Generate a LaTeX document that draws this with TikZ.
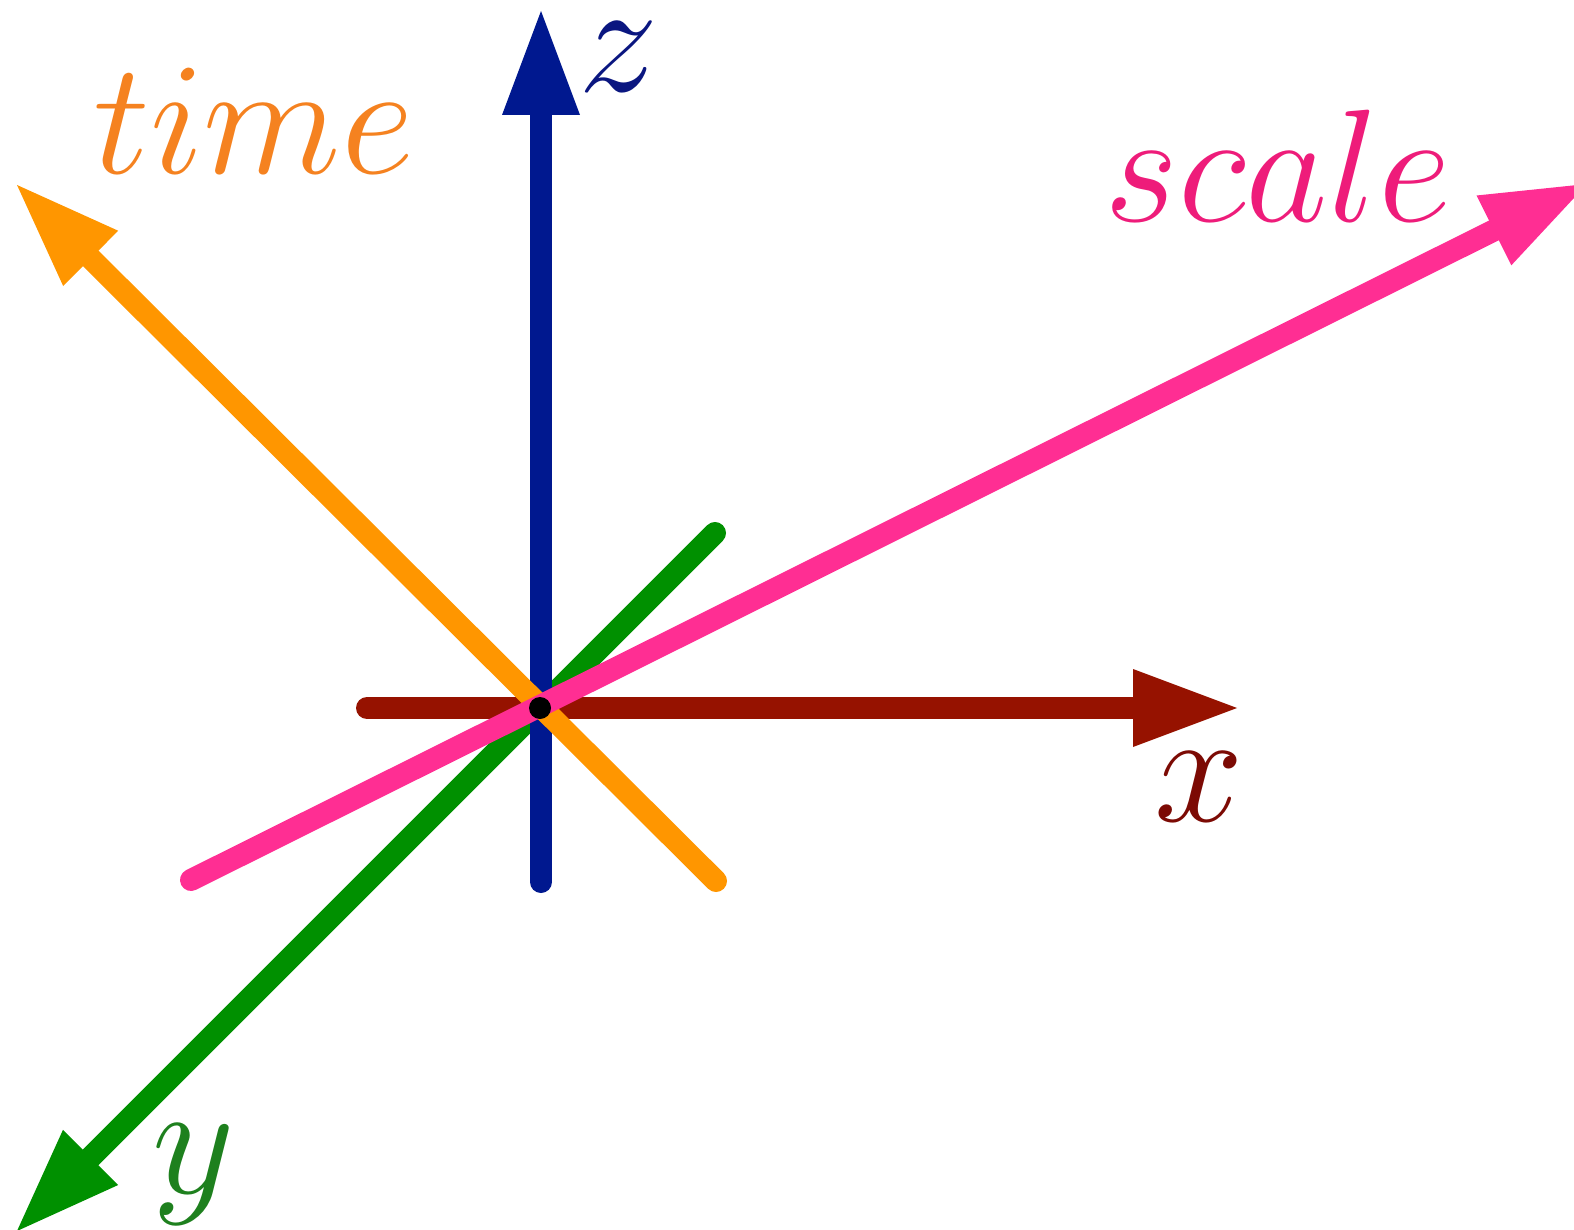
\documentclass[tikz,border=0pt]{standalone}
\usetikzlibrary{arrows.meta}
\definecolor{xline}{RGB}{150,18,0}
\definecolor{xlab}{RGB}{124,10,4}
\definecolor{zline}{RGB}{0,24,143}
\definecolor{zlab}{RGB}{10,22,128}
\definecolor{yline}{RGB}{0,144,0}
\definecolor{ylab}{RGB}{30,128,30}
\definecolor{tline}{RGB}{255,150,0}
\definecolor{tlab}{RGB}{245,130,32}
\definecolor{sline}{RGB}{255,46,147}
\definecolor{slab}{RGB}{238,28,122}
\begin{document}
\begin{tikzpicture}[x=1pt,y=-1pt,
  axis/.style={line width=22pt,line cap=round,
    -{Triangle[length=104pt,width=78pt,line width=0pt]}},
  lab/.style={inner sep=0pt,anchor=base,font=\Huge,scale=6.45,transform shape}]
\useasboundingbox (0,0) rectangle (1574,1230);
\coordinate (O) at (540,708);
\coordinate (xs) at (367,708);
\coordinate (xe) at (1237,708);
\coordinate (zs) at (541,882);
\coordinate (ze) at (541,11);
\coordinate (ys) at (715,533);
\coordinate (ye) at (17,1231);
\coordinate (ts) at (716,881);
\coordinate (te) at (17,185);
\coordinate (ss) at (191,880);
\coordinate (se) at (1587,184);
\draw[axis,xline] (xs) -- (xe);
\draw[axis,yline] (ys) -- (ye);
\draw[axis,zline] (zs) -- (ze);
\draw[axis,tline] (ts) -- (te);
\draw[axis,sline] (ss) -- (se);
\fill[black] (O) circle[radius=11pt];
\node[lab,text=xlab] (xl) at (1199,821) {$x$};
\node[lab,text=ylab] (yl) at (194,1193) {$y$};
\node[lab,text=zlab] (zl) at (619,92) {$z$};
\node[lab,text=tlab] (tl) at (254,174) {$time$};
\node[lab,text=slab] (sl) at (1278,222) {$scale$};
\end{tikzpicture}
\end{document}
